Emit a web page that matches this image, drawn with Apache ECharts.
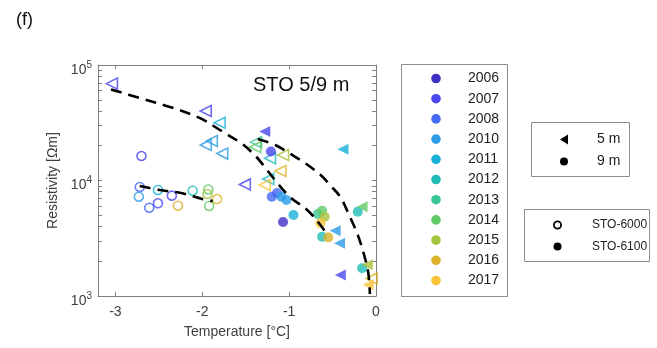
<!DOCTYPE html>
<html>
<head>
<meta charset="utf-8">
<script src="https://cdn.jsdelivr.net/npm/echarts@6/dist/echarts.min.js"></script>
<style>
  html, body { margin: 0; padding: 0; background: #fff; }
  #main { width: 657px; height: 348px; }
</style>
</head>
<body>
<div id="main"></div>
<script>
// years and colours used for the markers
var years = ['2006', '2007', '2008', '2010', '2011', '2012', '2013', '2014', '2015', '2016', '2017'];
var yearColors = ['#3d2fc4', '#4b46ee', '#446af3', '#2d9ce7', '#17b1d7', '#20bdb6', '#38c594', '#60c965', '#a6c33c', '#ddb12c', '#f9c33a'];

// [temperature, resistivity, year]
var sto6000_9m = [
	[-2.70, 16300, '2007'], [-2.72, 8790, '2008'], [-2.73, 7240, '2010'],
	[-2.61, 5810, '2008'], [-2.51, 6350, '2007'], [-2.51, 8280, '2011'],
	[-2.35, 7390, '2007'], [-2.28, 6050, '2016'], [-2.11, 8160, '2012'],
	[-1.93, 8360, '2014'], [-1.94, 7640, '2015'], [-1.92, 6020, '2014'],
	[-1.83, 6910, '2016']
];
var sto6000_5m = [
	[-3.04, 69000, '2007'], [-1.96, 40000, '2007'], [-1.80, 31600, '2011'],
	[-1.89, 22000, '2010'], [-1.96, 20300, '2010'], [-1.77, 17100, '2010'],
	[-1.38, 21500, '2013'], [-1.39, 19500, '2014'], [-1.07, 16600, '2015'],
	[-1.22, 15600, '2012'], [-1.10, 12100, '2016'], [-1.24, 10300, '2012'],
	[-1.28, 9140, '2017'], [-1.51, 9250, '2007'], [-0.05, 1420, '2016']
];
var sto6100_5m = [
	[-1.28, 26500, '2007'], [-0.38, 18600, '2011'], [-0.47, 3680, '2010'],
	[-0.42, 2860, '2010'], [-0.41, 1520, '2007'], [-0.16, 5940, '2014'],
	[-0.10, 1860, '2015'], [-0.09, 1250, '2017']
];
var sto6100_9m = [
	[-1.21, 17800, '2007'], [-1.20, 7240, '2008'], [-1.14, 7800, '2008'],
	[-1.09, 7240, '2010'], [-1.03, 6780, '2010'], [-0.95, 5030, '2011'],
	[-1.07, 4370, '2006'], [-0.67, 5130, '2013'], [-0.62, 5480, '2014'],
	[-0.59, 4860, '2015'], [-0.64, 4260, '2017'], [-0.62, 3260, '2012'],
	[-0.55, 3220, '2016'], [-0.21, 5370, '2012'], [-0.16, 1740, '2012']
];

// dashed fit curves
var fitLong = [
	[-3.05, 61400], [-2.72, 51800], [-2.37, 43300], [-2.03, 34800], [-1.76, 26300],
	[-1.54, 20700], [-1.39, 16400], [-1.27, 12800], [-1.15, 9800], [-0.99, 7200],
	[-0.78, 5450], [-0.64, 4120], [-0.56, 3380]
];
var fitRight = [
	[-1.36, 22900], [-1.16, 20300], [-1.00, 17300], [-0.82, 14200], [-0.64, 11200],
	[-0.53, 9140], [-0.41, 7200], [-0.31, 5030], [-0.21, 3380], [-0.14, 2310],
	[-0.09, 1610], [-0.07, 1040]
];
var fitShort = [
	[-2.72, 8960], [-2.49, 8270], [-2.23, 7750], [-1.99, 6880], [-1.88, 6650]
];

var xTicks = [-3, -2, -1, 0];
var yLabels = [1000, 10000, 100000];
var yTicks = [1000, 2000, 3000, 4000, 5000, 6000, 7000, 8000, 9000,
	10000, 20000, 30000, 40000, 50000, 60000, 70000, 80000, 90000, 100000];

var FONT = 'Liberation Sans';
var AXIS = '#808080';
var TXT = '#404040';

function colorOf(y) {
	return yearColors[years.indexOf(y)];
}

function scatter(name, rows, symbol, filled, size) {
	return {
		name: name,
		type: 'scatter',
		symbol: symbol,
		symbolSize: size,
		symbolRotate: symbol == 'triangle' ? 90 : 0,
		silent: true,
		data: rows.map(function(r) {
			var c = colorOf(r[2]);
			return {
				value: [r[0], r[1]],
				itemStyle: filled ? { color: c } : { color: 'rgba(255,255,255,0)', borderColor: c, borderWidth: 1.6 }
			};
		})
	};
}

function fitLine(rows) {
	return {
		type: 'line',
		data: rows,
		smooth: 0.35,
		symbol: 'none',
		silent: true,
		z: 5,
		lineStyle: { color: '#000', width: 2.6, type: [11, 7] }
	};
}

var myChart = echarts.init(document.getElementById('main'));

// legend boxes
var graphics = [];
graphics.push({ type: 'text', left: 16, top: 11, style: { text: '(f)', fontSize: 18, fontFamily: FONT, fill: '#111' } });
graphics.push({ type: 'text', left: 253, top: 75, style: { text: 'STO 5/9 m', fontSize: 20, fontFamily: FONT, fill: '#111' } });

graphics.push({ type: 'rect', shape: { x: 401.5, y: 64.5, width: 106, height: 232 }, style: { fill: '#fff', stroke: '#8c8c8c', lineWidth: 1 } });
for (var i = 0; i < years.length; i++) {
	var cy = 78.5 + i * 20.2;
	graphics.push({ type: 'circle', shape: { cx: 436, cy: cy, r: 4.8 }, style: { fill: yearColors[i] } });
	graphics.push({ type: 'text', x: 468, y: cy, style: { text: years[i], fontSize: 14, fontFamily: FONT, fill: '#222', verticalAlign: 'middle' } });
}

graphics.push({ type: 'rect', shape: { x: 531.5, y: 122.5, width: 98, height: 54 }, style: { fill: '#fff', stroke: '#8c8c8c', lineWidth: 1 } });
graphics.push({ type: 'polygon', shape: { points: [[560, 139.5], [568, 134.5], [568, 144.5]] }, style: { fill: '#000' } });
graphics.push({ type: 'text', x: 597, y: 139.5, style: { text: '5 m', fontSize: 14, fontFamily: FONT, fill: '#222', verticalAlign: 'middle' } });
graphics.push({ type: 'circle', shape: { cx: 564, cy: 161.5, r: 4 }, style: { fill: '#000' } });
graphics.push({ type: 'text', x: 597, y: 161.5, style: { text: '9 m', fontSize: 14, fontFamily: FONT, fill: '#222', verticalAlign: 'middle' } });

graphics.push({ type: 'rect', shape: { x: 524.5, y: 209.5, width: 125, height: 52 }, style: { fill: '#fff', stroke: '#8c8c8c', lineWidth: 1 } });
graphics.push({ type: 'circle', shape: { cx: 557.5, cy: 225, r: 3.6 }, style: { fill: '#fff', stroke: '#000', lineWidth: 1.8 } });
graphics.push({ type: 'text', x: 592, y: 225, style: { text: 'STO-6000', fontSize: 12, fontFamily: FONT, fill: '#222', verticalAlign: 'middle' } });
graphics.push({ type: 'circle', shape: { cx: 557.5, cy: 246.5, r: 4 }, style: { fill: '#000' } });
graphics.push({ type: 'text', x: 592, y: 246.5, style: { text: 'STO-6100', fontSize: 12, fontFamily: FONT, fill: '#222', verticalAlign: 'middle' } });

var yLabelStyle = {
	customValues: yLabels,
	margin: 6,
	padding: [10, 0, 0, 0],
	formatter: function(v) {
		return '{b|10}{s|' + Math.round(Math.log10(v)) + '}';
	},
	rich: {
		b: { fontSize: 14, fontFamily: FONT, color: TXT, lineHeight: 20 },
		s: { fontSize: 10, fontFamily: FONT, color: TXT, lineHeight: 8, verticalAlign: 'top' }
	}
};

option = {
	animation: false,
	backgroundColor: '#fff',
	grid: { left: 98, right: 281, top: 65, bottom: 52 },
	xAxis: [
		{
			type: 'value', min: -3.2, max: 0, position: 'bottom',
			name: 'Temperature [°C]', nameLocation: 'middle', nameGap: 29,
			nameTextStyle: { fontSize: 14, fontFamily: FONT, color: TXT },
			axisLine: { show: true, onZero: false, lineStyle: { color: AXIS } },
			axisTick: { show: true, inside: true, length: 4, customValues: xTicks, lineStyle: { color: AXIS } },
			axisLabel: { customValues: xTicks, margin: 9, fontSize: 14, fontFamily: FONT, color: TXT },
			splitLine: { show: false }
		},
		{
			type: 'value', min: -3.2, max: 0, position: 'top',
			axisLine: { show: true, onZero: false, lineStyle: { color: AXIS } },
			axisTick: { show: true, inside: true, length: 4, customValues: xTicks, lineStyle: { color: AXIS } },
			axisLabel: { show: false },
			splitLine: { show: false }
		}
	],
	yAxis: [
		{
			type: 'log', logBase: 10, min: 1000, max: 100000, position: 'left',
			name: 'Resistivity [Ωm]', nameLocation: 'middle', nameGap: 38,
			nameTextStyle: { fontSize: 14, fontFamily: FONT, color: TXT },
			axisLine: { show: true, onZero: false, lineStyle: { color: AXIS } },
			axisTick: { show: true, inside: true, length: 4, customValues: yTicks, lineStyle: { color: AXIS } },
			axisLabel: yLabelStyle,
			splitLine: { show: false }
		},
		{
			type: 'log', logBase: 10, min: 1000, max: 100000, position: 'right',
			axisLine: { show: true, onZero: false, lineStyle: { color: AXIS } },
			axisTick: { show: true, inside: true, length: 4, customValues: yTicks, lineStyle: { color: AXIS } },
			axisLabel: { show: false },
			splitLine: { show: false }
		}
	],
	series: [
		scatter('STO-6000 9 m', sto6000_9m, 'circle', false, 9),
		scatter('STO-6000 5 m', sto6000_5m, 'triangle', false, 11),
		scatter('STO-6100 9 m', sto6100_9m, 'circle', true, 10),
		scatter('STO-6100 5 m', sto6100_5m, 'triangle', true, 11),
		fitLine(fitLong),
		fitLine(fitRight),
		fitLine(fitShort)
	],
	graphic: graphics
};
myChart.setOption(option);
</script>
</body>
</html>
